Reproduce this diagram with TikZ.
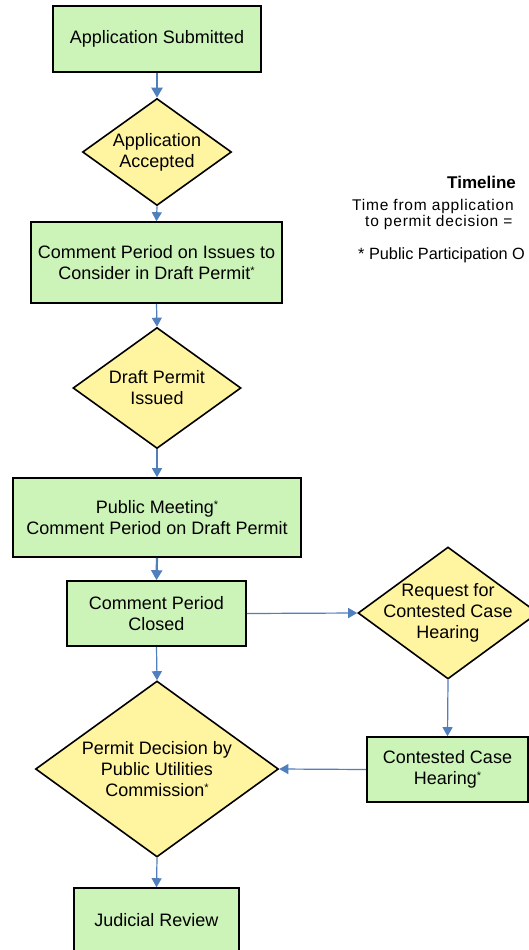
\documentclass[tikz,border=0pt]{standalone}
\usepackage{fontspec}
\setmainfont{Liberation Sans}
\usetikzlibrary{shapes.geometric,arrows.meta}
\definecolor{boxgreen}{RGB}{204,244,184}
\definecolor{diayellow}{RGB}{255,244,160}
\definecolor{arrowblue}{RGB}{79,127,189}
\newcommand{\fnstar}{\raisebox{5pt}{\fontsize{11}{11}\selectfont *}}
\begin{document}
\begin{tikzpicture}[x=1pt,y=-1pt,
  box/.style={draw=black,line width=1.6pt,fill=boxgreen,rectangle,inner sep=0pt,align=center,font=\fontsize{18}{21}\selectfont},
  dia/.style={draw=black,line width=1.6pt,fill=diayellow,diamond,inner sep=0pt},
  txt/.style={align=center,font=\fontsize{18}{21}\selectfont,inner sep=0pt},
  note/.style={anchor=west,inner sep=0pt,font=\fontsize{15.5}{15.5}\selectfont\addfontfeature{LetterSpace=5}},
  arr/.style={draw=arrowblue,line width=1.2pt,-{Triangle[length=9pt,width=10pt]}},
  arrthick/.style={draw=arrowblue,line width=2.2pt,-{Triangle[length=10pt,width=11pt]}}
]
\useasboundingbox (0,0) rectangle (529,950);
\fill[white] (0,0) rectangle (529,950);

% boxes
\node[box,minimum width=208pt,minimum height=66pt] (b1) at (157,39) {Application Submitted};
\node[box,minimum width=251pt,minimum height=81pt] (b2) at (156.5,262.5) {Comment Period on Issues to\\Consider in Draft Permit\fnstar};
\node[box,minimum width=288pt,minimum height=79pt] (b3) at (157,517.5) {Public Meeting\fnstar\\Comment Period on Draft Permit};
\node[box,minimum width=179pt,minimum height=65pt] (b4) at (156.5,613.5) {Comment Period\\Closed};
\node[box,minimum width=161pt,minimum height=65pt] (b5) at (447.5,769.5) {Contested Case\\Hearing\fnstar};
\node[box,minimum width=165pt,minimum height=64pt] (b6) at (156.5,920) {Judicial Review};

% diamonds
\node[dia,minimum width=149pt,minimum height=107pt] (d1) at (157,152) {};
\node[txt] (d1t) at (d1.center) {Application\\Accepted};
\node[dia,minimum width=168pt,minimum height=121pt] (d2) at (157,388) {};
\node[txt] (d2t) at (d2.center) {Draft Permit\\Issued};
\node[dia,minimum width=180pt,minimum height=132pt] (d3) at (448,613) {};
\node[txt] (d3t) at (d3.center) {Request for\\Contested Case\\Hearing};
\node[dia,minimum width=243pt,minimum height=176pt] (d4) at (157,769) {};
\node[txt] (d4t) at (d4.center) {Permit Decision by\\Public Utilities\\Commission\fnstar};

% timeline note
\node[anchor=west,inner sep=0pt,font=\bfseries\fontsize{17}{17}\selectfont] (tl) at (447,182) {Timeline};
\node[note,align=left] (tl1) at (352,214.5) {Time from application\\\hspace*{13pt}to permit decision =};
\node[anchor=west,inner sep=0pt,font=\fontsize{16.3}{16.3}\selectfont] (tl3) at (358,255) {* Public Participation O};

% connectors
\draw[arrthick] (b1.south) -- (d1.north);
\draw[arr] (d1.south) -- (b2.north);
\draw[arr] (b2.south) -- (d2.north);
\draw[arr] (d2.south) -- (b3.north);
\draw[arrthick] (b3.south) -- (b4.north);
\draw[arr] (b4.south) -- (d4.north);
\draw[arr] (b4.east) -- (d3.west);
\draw[arr] (d3.south) -- (b5.north);
\draw[arr] (b5.west) -- (d4.east);
\draw[arr] (d4.south) -- (b6.north);
\end{tikzpicture}
\end{document}
